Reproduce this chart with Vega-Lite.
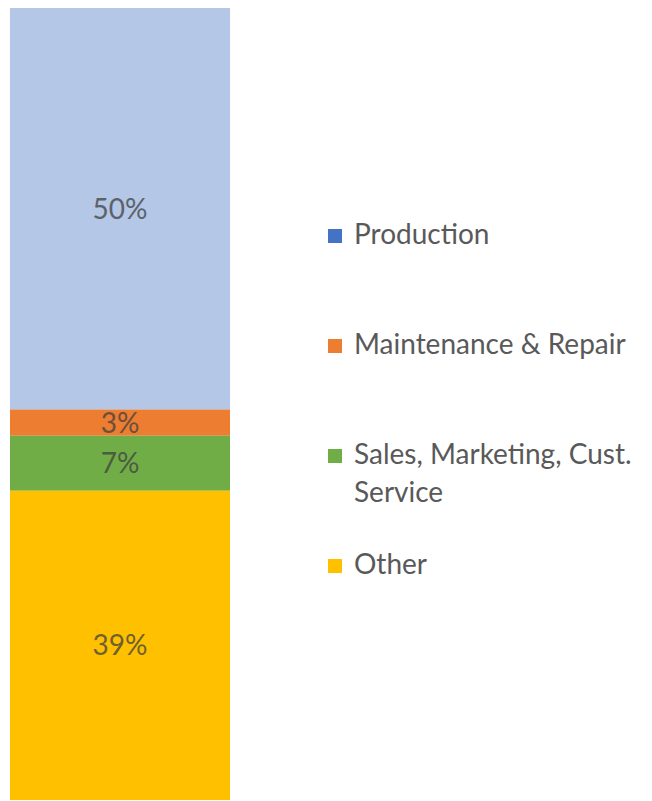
{
  "$schema": "https://vega.github.io/schema/vega-lite/v6.json",
  "autosize": "none",
  "padding": {"left": 10, "top": 8, "right": 422, "bottom": 1},
  "width": 220,
  "height": 792,
  "background": "white",
  "config": {"view": {"stroke": null}, "font": "Lato"},
  "data": {
    "values": [
      {"group": "A", "category": "Production", "value": 0.504, "rank": 4},
      {"group": "A", "category": "Maintenance & Repair", "value": 0.033, "rank": 3},
      {"group": "A", "category": "Sales, Marketing, Cust. Service", "value": 0.069, "rank": 2},
      {"group": "A", "category": "Other", "value": 0.388, "rank": 1}
    ]
  },
  "transform": [
    {"stack": "value", "groupby": ["group"], "sort": [{"field": "rank", "order": "ascending"}], "as": ["v0", "v1"]},
    {"calculate": "(datum.v0 + datum.v1) / 2", "as": "mid"}
  ],
  "encoding": {
    "x": {"field": "group", "type": "nominal", "axis": null, "scale": {"paddingInner": 0, "paddingOuter": 0}}
  },
  "layer": [
    {
      "mark": {"type": "bar"},
      "encoding": {
        "y": {"field": "v0", "type": "quantitative", "axis": null, "scale": {"domain": [0, 0.994], "nice": false}},
        "y2": {"field": "v1"},
        "color": {
          "field": "category", "type": "nominal",
          "scale": {
            "domain": ["Production", "Maintenance & Repair", "Sales, Marketing, Cust. Service", "Other"],
            "range": ["#4472C4", "#ED7D31", "#70AD47", "#FFC000"]
          },
          "legend": {
            "title": null,
            "orient": "none",
            "legendX": 311,
            "legendY": 214,
            "symbolType": "square",
            "symbolSize": 196,
            "symbolStrokeWidth": 0,
            "labelFont": "Lato",
            "labelFontSize": 28,
            "labelColor": "#595959",
            "labelLimit": 400,
            "labelOffset": 5,
            "rowPadding": 44,
            "gridAlign": "all",
            "labelExpr": "datum.label == 'Sales, Marketing, Cust. Service' ? ['Sales, Marketing, Cust.', 'Service'] : datum.label",
            "encode": {"labels": {"update": {"lineHeight": {"value": 38}}}}
          }
        },
        "fillOpacity": {"condition": {"test": "datum.category == 'Production'", "value": 0.4}, "value": 1}
      }
    },
    {
      "mark": {"type": "text", "font": "Lato", "fontSize": 28, "color": "#404040", "opacity": 0.75, "baseline": "middle", "dy": 2},
      "encoding": {
        "y": {"field": "mid", "type": "quantitative"},
        "text": {"field": "value", "type": "quantitative", "format": ".0%"}
      }
    }
  ]
}
